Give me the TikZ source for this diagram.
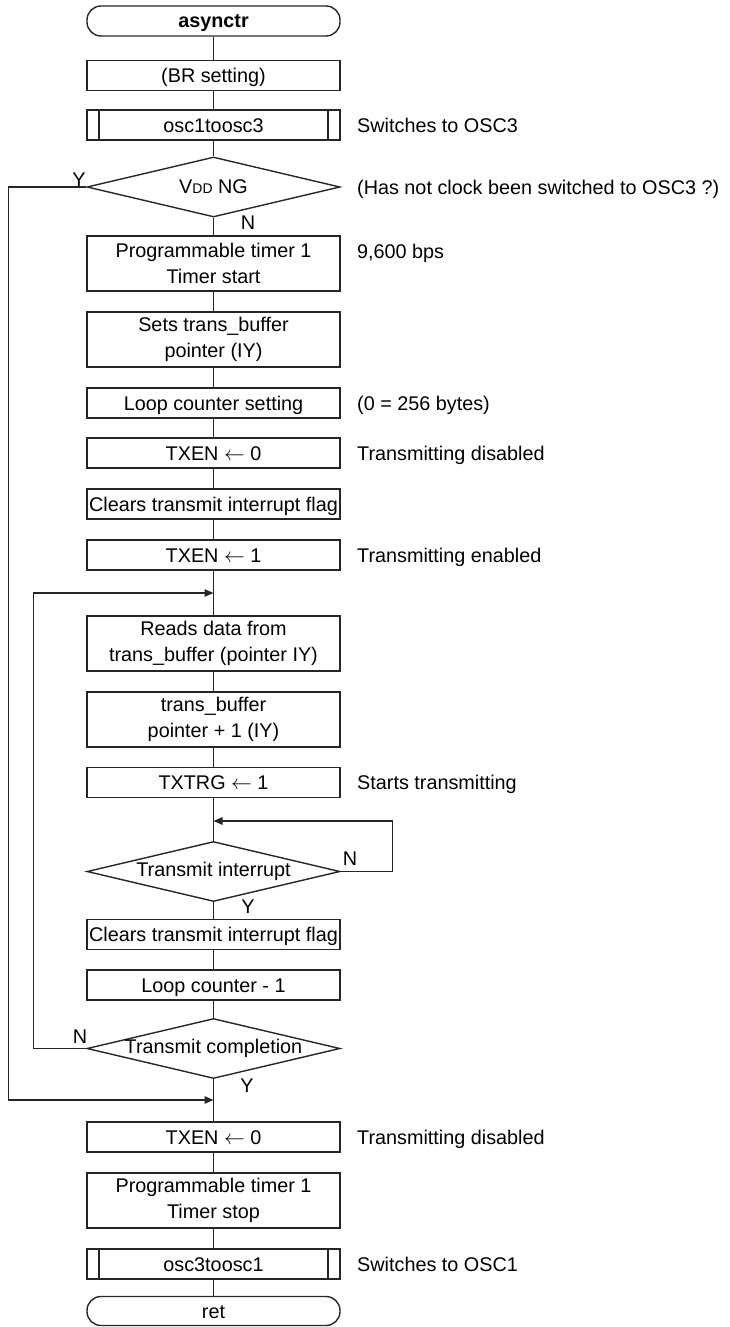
\documentclass[tikz,border=0pt]{standalone}
\usepackage{fontspec}
\setmainfont{Liberation Sans}
\usetikzlibrary{shapes.geometric,arrows.meta}
\begin{document}
\begin{tikzpicture}[x=1pt,y=-1pt,
  txt/.style={font=\fontsize{19.8}{26}\selectfont, inner sep=0pt},
  box/.style={txt, draw=black!85, line width=1.4pt, rectangle, minimum width=253pt, minimum height=30pt, align=center},
  one/.style={text height=14pt, text depth=0pt},
  term/.style={box, one, rounded corners=14pt},
  sub/.style={box, one, path picture={\draw[black!85,line width=1.4pt]
      ([xshift=12pt]path picture bounding box.north west) -- ([xshift=12pt]path picture bounding box.south west)
      ([xshift=-12pt]path picture bounding box.north east) -- ([xshift=-12pt]path picture bounding box.south east);}},
  dec/.style={diamond, draw=black!85, line width=1.4pt, minimum width=253pt, minimum height=60pt, inner sep=0pt, shape aspect=4.2},
  lbl/.style={txt, anchor=base},
  note/.style={txt, anchor=base west},
  con/.style={draw=black!85, line width=1.4pt},
  arr/.style={con, -{Triangle[length=9pt,width=7.5pt]}}
]
\useasboundingbox (0,0) rectangle (730,1327);

% main column
\node[term] (start) at (213.5,21) {\textbf{asynctr}};
\node[box, one] (br) at (213.5,75.5) {(BR setting)};
\node[sub] (o1) at (213.5,125) {osc1toosc3};
\node[dec, label={[txt]center:V{\fontsize{14}{14}\selectfont DD} NG}] (d1) at (213.5,187) {};
\node[box, minimum height=55pt] (pt1) at (213.5,263.5) {Programmable timer 1\\Timer start};
\node[box, minimum height=55pt] (st) at (213.5,339.5) {Sets trans\_buffer\\pointer (IY)};
\node[box, one] (lc) at (213.5,403) {Loop counter setting};
\node[box, one] (tx0) at (213.5,453) {TXEN $\leftarrow$ 0};
\node[box, one] (clr1) at (213.5,504) {Clears transmit interrupt flag};
\node[box, one] (tx1) at (213.5,555) {TXEN $\leftarrow$ 1};
\coordinate (m1) at (213.5,593);
\node[box, minimum height=55pt] (rd) at (213.5,643.5) {Reads data from\\trans\_buffer (pointer IY)};
\node[box, minimum height=55pt] (inc) at (213.5,719.5) {trans\_buffer\\pointer + 1 (IY)};
\node[box, one] (trg) at (213.5,782.5) {TXTRG $\leftarrow$ 1};
\coordinate (m2) at (213.5,821);
\node[dec, label={[txt]center:Transmit interrupt}] (d2) at (213.5,871.5) {};
\node[box, one] (clr2) at (213.5,934.5) {Clears transmit interrupt flag};
\node[box, one] (lc1) at (213.5,985) {Loop counter - 1};
\node[dec, label={[txt]center:Transmit completion}] (d3) at (213.5,1048.5) {};
\coordinate (m3) at (213.5,1100);
\node[box, one] (tx0b) at (213.5,1137) {TXEN $\leftarrow$ 0};
\node[box, minimum height=55pt] (pt2) at (213.5,1200.5) {Programmable timer 1\\Timer stop};
\node[sub] (o3) at (213.5,1264) {osc3toosc1};
\node[term, minimum height=29pt] (ret) at (213.5,1311) {ret};

% straight connectors
\draw[con] (start) -- (br);
\draw[con] (br) -- (o1);
\draw[con] (o1) -- (d1);
\draw[con] (d1) -- (pt1);
\draw[con] (pt1) -- (st);
\draw[con] (st) -- (lc);
\draw[con] (lc) -- (tx0);
\draw[con] (tx0) -- (clr1);
\draw[con] (clr1) -- (tx1);
\draw[con] (tx1) -- (rd);
\draw[con] (rd) -- (inc);
\draw[con] (inc) -- (trg);
\draw[con] (trg) -- (d2);
\draw[con] (d2) -- (clr2);
\draw[con] (clr2) -- (lc1);
\draw[con] (lc1) -- (d3);
\draw[con] (d3) -- (tx0b);
\draw[con] (tx0b) -- (pt2);
\draw[con] (pt2) -- (o3);
\draw[con] (o3) -- (ret);

% loops
\draw[arr] (d1.west) -- ++(-78,0) |- (m3);
\draw[arr] (d2.east) -- ++(52,0) |- (m2);
\draw[arr] (d3.west) -- ++(-53,0) |- (m1);

% branch labels
\node[lbl] (y1) at (79,186) {Y};
\node[lbl] (n1) at (248,229) {N};
\node[lbl] (n2) at (350,865) {N};
\node[lbl] (y2) at (248,913) {Y};
\node[lbl] (n3) at (80,1043) {N};
\node[lbl] (y3) at (247,1092) {Y};

% notes
\node[note] (c1) at (357,132) {Switches to OSC3};
\node[note] (c2) at (357,194) {(Has not clock been switched to OSC3 ?)};
\node[note] (c3) at (357,258) {9,600 bps};
\node[note] (c4) at (357,410) {(0 = 256 bytes)};
\node[note] (c5) at (357,460) {Transmitting disabled};
\node[note] (c6) at (357,562) {Transmitting enabled};
\node[note] (c7) at (357,789) {Starts transmitting};
\node[note] (c8) at (357,1144) {Transmitting disabled};
\node[note] (c9) at (357,1271) {Switches to OSC1};
\end{tikzpicture}
\end{document}
